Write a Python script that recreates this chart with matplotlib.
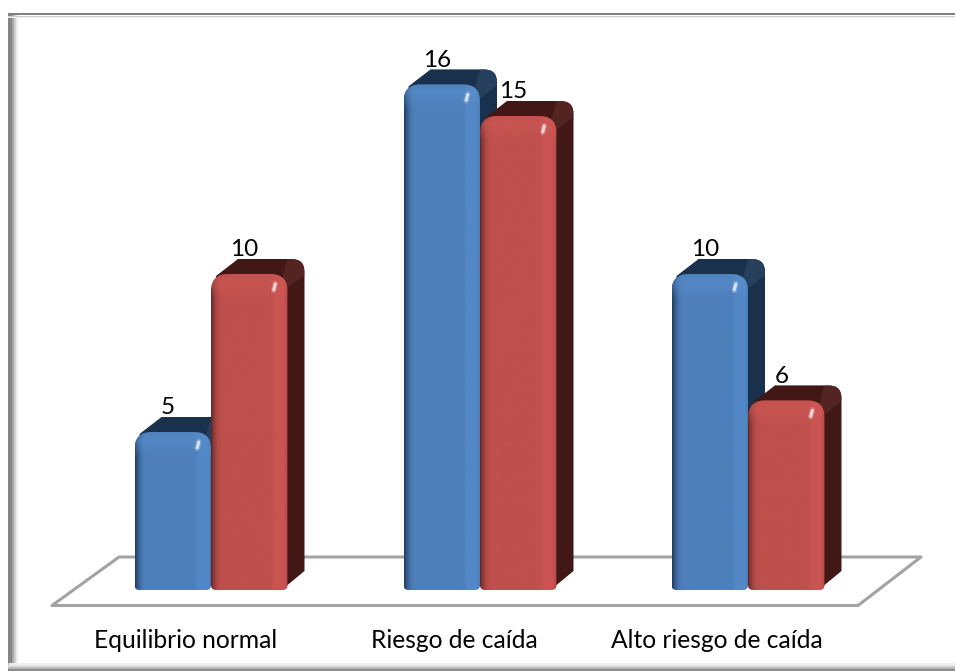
import numpy as np
import matplotlib
matplotlib.use("Agg")
import matplotlib.pyplot as plt
from matplotlib.colors import LinearSegmentedColormap, to_rgb
from matplotlib.patches import PathPatch, Polygon
from matplotlib.path import Path

categories = ["Equilibrio normal", "Riesgo de caída", "Alto riesgo de caída"]
serie_azul = [5, 16, 10]
serie_roja = [10, 15, 6]

W, H = 955, 671
BASE_PX = 590.0    # pixel row of value 0
UNIT_PX = 31.6     # pixels per unit
CENTERS = [211, 480, 748]
LABEL_X = [186, 454, 717]
BAR_W = 76.5
DX = 17.0
DY = 15.0 / UNIT_PX
R = 17.0
RY = R / UNIT_PX

fig = plt.figure(figsize=(W / 100, H / 100), dpi=100, facecolor="white")
ax = fig.add_axes([0, 0, 1, 1])
ax.axis("off")


def py(p):
    # pixel row to value units, used for the floor and frame
    return (BASE_PX - p) / UNIT_PX


def rounded(x0, x1, y1, r=R, ry=RY, y0=0.0, rb=5.0):
    rby = rb / UNIT_PX
    verts = [(x0 + rb, y0), (x1 - rb, y0), (x1, y0), (x1, y0 + rby),
             (x1, y1 - ry), (x1, y1), (x1 - r, y1),
             (x0 + r, y1), (x0, y1), (x0, y1 - ry),
             (x0, y0 + rby), (x0, y0), (x0 + rb, y0), (x0 + rb, y0)]
    codes = [Path.MOVETO, Path.LINETO, Path.CURVE3, Path.CURVE3,
             Path.LINETO, Path.CURVE3, Path.CURVE3,
             Path.LINETO, Path.CURVE3, Path.CURVE3,
             Path.LINETO, Path.CURVE3, Path.CURVE3, Path.CLOSEPOLY]
    return Path(verts, codes)


def side_path(x0, x1, y1):
    # top and right faces seen behind the front face
    bx = x1 + DX
    r = 13.0
    verts = [(x1 - 6, 0.0), (bx, DY + 4 / UNIT_PX), (bx, y1 + DY - r / UNIT_PX), (bx, y1 + DY), (bx - r, y1 + DY),
             (x0 + DX + 10, y1 + DY), (x0 + 5, y1 - 2 / UNIT_PX), (x0 + 6, y1 - RY), (x1 - 6, y1 - RY), (x1 - 6, 0.0)]
    codes = [Path.MOVETO, Path.LINETO, Path.LINETO, Path.CURVE3, Path.CURVE3,
             Path.LINETO, Path.LINETO, Path.LINETO, Path.LINETO, Path.CLOSEPOLY]
    return Path(verts, codes)


def draw_bar(x0, value, stops, light, dark, corner, z):
    x1 = x0 + BAR_W
    # depth faces
    side = PathPatch(side_path(x0, x1, value), fc=dark, ec="none", zorder=z)
    ax.add_patch(side)
    # lighter wedge at the far top corner
    wedge = Polygon([(x1 - 5, value - 0.1), (x1, value - 0.45), (x1 + DX, value + DY - 0.5),
                     (x1 + DX, value + DY), (x1 + DX - 17, value + DY)],
                    fc=corner, ec="none", zorder=z + 0.1)
    ax.add_patch(wedge)
    wedge.set_clip_path(side)

    # front face with horizontal shading, clipped to a rounded outline
    cmap = LinearSegmentedColormap.from_list("face", stops)
    grad = np.linspace(0, 1, 256).reshape(1, -1)
    im = ax.imshow(grad, extent=(x0, x1, 0, value), cmap=cmap, aspect="auto",
                   zorder=z + 0.2, interpolation="bilinear")
    outline = PathPatch(rounded(x0, x1, value), fc="none", ec="none", transform=ax.transData)
    ax.add_patch(outline)
    im.set_clip_path(outline)

    # bevel along the top edge
    bevel = np.ones((64, 1, 4))
    bevel[..., :3] = to_rgb(light)
    bevel[:, 0, 3] = np.r_[np.linspace(0.0, 0.5, 44), np.linspace(0.5, 0.15, 20)]
    im2 = ax.imshow(bevel, extent=(x0, x1, value - 26 / UNIT_PX, value), aspect="auto", origin="lower",
                    zorder=z + 0.3, interpolation="bilinear")
    im2.set_clip_path(outline)

    # small specular glint near the top right corner
    gx, gy = x1 - 13, value - 13 / UNIT_PX
    ax.plot([gx - 0.8, gx + 0.8], [gy - 3.5 / UNIT_PX, gy + 3.5 / UNIT_PX], color="#ffffff", lw=4.0,
            alpha=0.18, solid_capstyle="round", zorder=z + 0.4)
    ax.plot([gx - 0.8, gx + 0.8], [gy - 3 / UNIT_PX, gy + 3 / UNIT_PX], color="#ffffff", lw=2.2,
            alpha=0.7, solid_capstyle="round", zorder=z + 0.5)


BLUE = [(0, "#223a58"), (0.03, "#2f5686"), (0.09, "#4878b2"), (0.14, "#4f80ba"), (0.78, "#4e7fba"),
        (0.82, "#5387c5"), (0.95, "#5389c8"), (0.985, "#4d7cb4"), (1, "#3c6593")]
RED = [(0, "#5c2422"), (0.03, "#8a3a38"), (0.09, "#b54b48"), (0.14, "#bf504d"), (0.78, "#bf504d"),
       (0.82, "#c95452"), (0.95, "#cb5452"), (0.985, "#b84d4a"), (1, "#8f3a38")]

# floor of the plot area
ax.add_patch(Polygon([(52, py(605.5)), (858, py(605.5)), (921, py(557)), (119, py(557))],
                     closed=True, fc="white", ec="#a3a3a3", lw=2.2, joinstyle="round", zorder=1))

# frame: left, top and bottom edges fade inwards
for a, b, col in [(16, 18, "#eeeeee"), (14, 16, "#d0d0d0"), (12, 14, "#a8a8a8"), (8, 12, "#858585")]:
    ax.plot([(a + b) / 2] * 2, [py(13), py(671)], color=col, lw=(b - a) * 0.72, zorder=0.6, solid_capstyle="butt")
for a, b, col in [(16, 18, "#f0f0f0"), (15, 16, "#cfcfcf"), (13, 15, "#808080")]:
    ax.plot([8, W], [py((a + b) / 2)] * 2, color=col, lw=(b - a) * 0.72, zorder=0.7, solid_capstyle="butt")
for a, b, col in [(662, 665, "#f0f0f0"), (665, 667, "#dedede"), (667, 669, "#b8b8b8"), (669, 671, "#8c8c8c")]:
    ax.plot([8, W], [py((a + b) / 2)] * 2, color=col, lw=(b - a) * 0.72, zorder=0.7, solid_capstyle="butt")

for i in range(len(categories)):
    c = CENTERS[i]
    draw_bar(c - BAR_W, serie_azul[i], BLUE, "#5a90cf", "#1a314d", "#263f5c", 2 + i * 2)
    draw_bar(c, serie_roja[i], RED, "#d25a57", "#411816", "#532422", 3 + i * 2)
    ax.text(c - BAR_W / 2 - 5, serie_azul[i] + DY - 0.04, str(serie_azul[i]), fontsize=17.5,
            ha="center", va="bottom", color="black", family="Lato", zorder=20)
    ax.text(c + BAR_W / 2 - 5, serie_roja[i] + DY - 0.04, str(serie_roja[i]), fontsize=17.5,
            ha="center", va="bottom", color="black", family="Lato", zorder=20)
    ax.text(LABEL_X[i], py(640), categories[i], fontsize=17.7,
            ha="center", va="center", color="black", family="Lato", zorder=20)

# imshow resets the limits, so fix the scales after drawing
ax.set_xlim(0, W)
ax.set_ylim((BASE_PX - H) / UNIT_PX, BASE_PX / UNIT_PX)

fig.savefig("out.png", dpi=100, facecolor="white")
